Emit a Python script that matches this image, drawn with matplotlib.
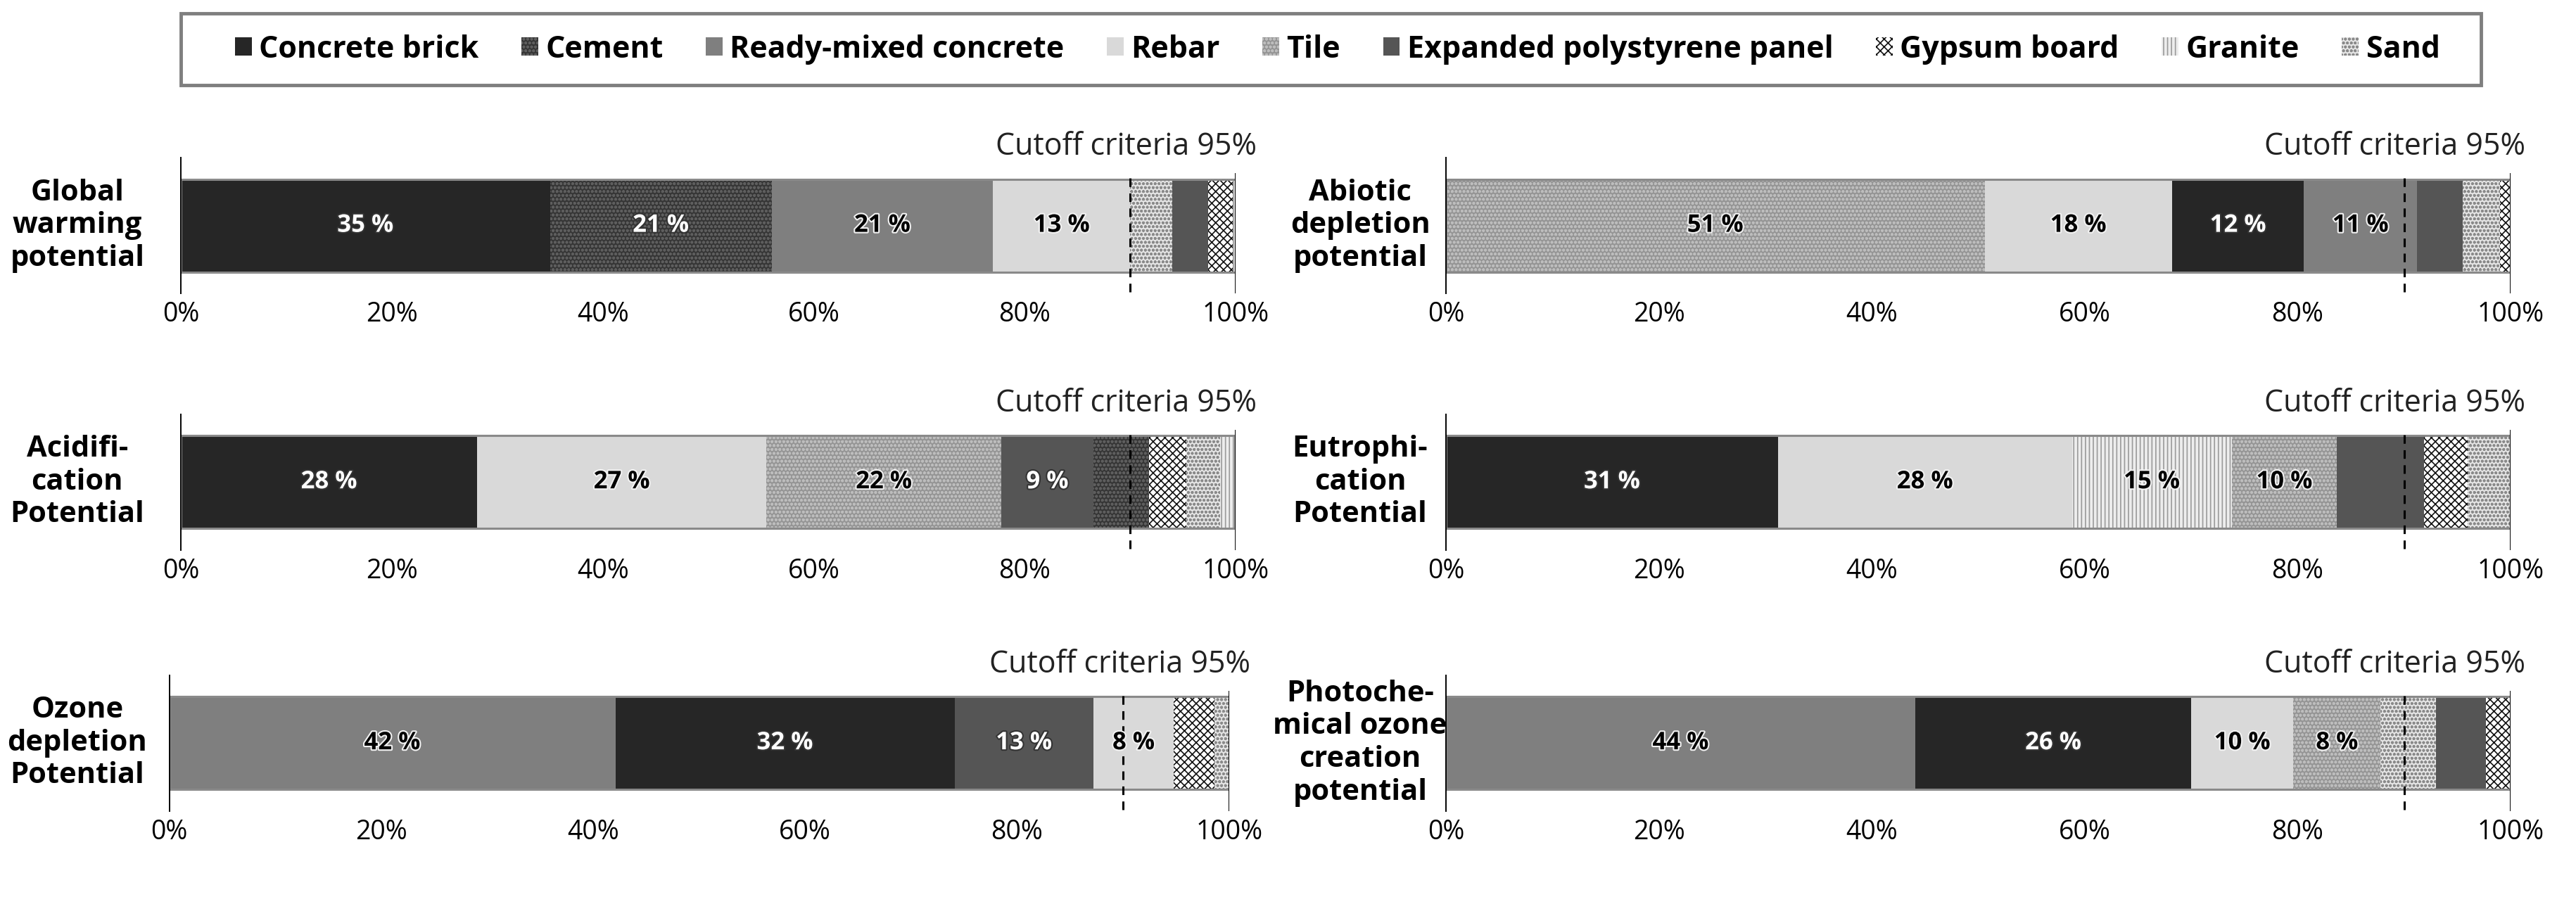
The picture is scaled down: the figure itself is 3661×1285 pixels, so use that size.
import numpy as np
import matplotlib
matplotlib.use("Agg")
import matplotlib.pyplot as plt
from matplotlib.patches import Patch, Rectangle
import matplotlib.patheffects as pe

plt.rcParams['font.family'] = ['Open Sans', 'DejaVu Sans']
plt.rcParams['hatch.linewidth'] = 1.2

# Legend order
categories = ['Concrete brick', 'Cement', 'Ready-mixed concrete', 'Rebar', 'Tile',
              'Expanded polystyrene panel', 'Gypsum board', 'Granite', 'Sand']

# Shares (%) per impact category, in the order they are stacked
gwp_mat = ['Concrete brick', 'Cement', 'Ready-mixed concrete', 'Rebar', 'Sand',
           'Expanded polystyrene panel', 'Gypsum board', 'Granite']
gwp_val = [35, 21, 21, 13, 4.0, 3.4, 2.3, 0.3]

adp_mat = ['Tile', 'Rebar', 'Concrete brick', 'Ready-mixed concrete',
           'Expanded polystyrene panel', 'Sand', 'Gypsum board']
adp_val = [50.6, 17.6, 12.4, 10.6, 4.3, 3.5, 1.0]

ap_mat = ['Concrete brick', 'Rebar', 'Tile', 'Expanded polystyrene panel', 'Cement',
          'Gypsum board', 'Sand', 'Granite']
ap_val = [28.1, 27.4, 22.3, 8.7, 5.3, 3.5, 3.2, 1.4]

ep_mat = ['Concrete brick', 'Rebar', 'Granite', 'Tile', 'Expanded polystyrene panel',
          'Gypsum board', 'Sand']
ep_val = [31.2, 27.6, 15.0, 9.9, 8.2, 4.1, 4.0]

odp_mat = ['Ready-mixed concrete', 'Concrete brick', 'Expanded polystyrene panel', 'Rebar',
           'Gypsum board', 'Sand']
odp_val = [42.1, 32.0, 13.1, 7.6, 3.8, 1.4]

pocp_mat = ['Ready-mixed concrete', 'Concrete brick', 'Rebar', 'Tile', 'Sand',
            'Expanded polystyrene panel', 'Gypsum board']
pocp_val = [44.1, 25.9, 9.6, 8.2, 5.2, 4.7, 2.3]

titles = ["Global\nwarming\npotential", "Abiotic\ndepletion\npotential",
          "Acidifi-\ncation\nPotential", "Eutrophi-\ncation\nPotential",
          "Ozone\ndepletion\nPotential", "Photoche-\nmical ozone\ncreation\npotential"]
panels = [(gwp_mat, gwp_val), (adp_mat, adp_val), (ap_mat, ap_val),
          (ep_mat, ep_val), (odp_mat, odp_val), (pocp_mat, pocp_val)]
cutoff = 90
ticks = [0, 20, 40, 60, 80, 100]
tick_labels = ['0%', '20%', '40%', '60%', '80%', '100%']

style = {
    'Concrete brick': dict(facecolor='#262626', edgecolor='#262626'),
    'Cement': dict(facecolor='#363636', edgecolor='#5e5e5e', hatch='ooo'),
    'Ready-mixed concrete': dict(facecolor='#7f7f7f', edgecolor='#7f7f7f'),
    'Rebar': dict(facecolor='#d9d9d9', edgecolor='#d9d9d9'),
    'Tile': dict(facecolor='#959595', edgecolor='#bdbdbd', hatch='ooo'),
    'Expanded polystyrene panel': dict(facecolor='#555555', edgecolor='#555555'),
    'Gypsum board': dict(facecolor='#ffffff', edgecolor='#111111', hatch='xxx'),
    'Granite': dict(facecolor='#ededed', edgecolor='#9a9a9a', hatch='|||'),
    'Sand': dict(facecolor='#e4e4e4', edgecolor='#8a8a8a', hatch='ooo'),
}
dark = ['Concrete brick', 'Cement', 'Expanded polystyrene panel']

fig = plt.figure(figsize=(36.61, 12.85), dpi=100)

# axes rectangles (figure fraction)
boxes = [
    [0.0702, 0.6755, 0.4095, 0.150], [0.5613, 0.6755, 0.4133, 0.150],
    [0.0702, 0.3918, 0.4095, 0.150], [0.5613, 0.3918, 0.4133, 0.150],
    [0.0657, 0.1031, 0.4114, 0.150], [0.5613, 0.1031, 0.4133, 0.150],
]

for i, (mats, vals) in enumerate(panels):
    ax = fig.add_axes(boxes[i])
    left = 0
    for j, (m, v) in enumerate(zip(mats, vals)):
        ax.barh(0, v, left=left, height=1, linewidth=0, **style[m])
        if j < 4:
            c = 'white' if m in dark else 'black'
            sc = '#333333' if c == 'white' else '#f2f2f2'
            ax.text(left + v / 2, 0, f"{round(v)} %", ha='center', va='center',
                    fontsize=25, fontweight='bold', color=c,
                    path_effects=[pe.withStroke(linewidth=3, foreground=sc)])
        left += v
    ax.barh(0, sum(vals), height=1, fill=False, edgecolor='#8a8a8a', linewidth=2.2)
    ax.axvline(cutoff, ymin=0.01, ymax=0.88, color='black', linestyle=(0, (4, 3)), lw=2.2)
    ax.axvline(100, ymin=0, ymax=0.88, color='black', lw=1.4)
    ax.set_xlim(0, 100)
    ax.set_ylim(-0.731, 0.731)
    ax.set_xticks(ticks)
    ax.set_xticklabels(tick_labels)
    ax.set_yticks([])
    ax.tick_params(axis='x', length=0, pad=8, labelsize=27)
    for s in ['top', 'right', 'bottom']:
        ax.spines[s].set_visible(False)
    ax.spines['left'].set_linewidth(1.4)
    ax.patch.set_alpha(0)
    xr = 102 if i % 2 == 0 else 101.4
    ax.text(xr, 1.08, 'Cutoff criteria 95%', transform=ax.get_xaxis_transform(),
            ha='right', va='center', fontsize=31, color='#222222')
    # row label, centred in the left margin of its column
    yc = boxes[i][1] + boxes[i][3] / 2
    xl = 0.0300 if i % 2 == 0 else 0.5280
    fig.text(xl, yc, titles[i], ha='center', va='center',
             fontsize=30, fontweight='bold', linespacing=1.18)

# legend frame and entries
fig.patches.append(Rectangle((0.0702, 0.9058), 0.893, 0.0794, transform=fig.transFigure,
                             fill=False, edgecolor='#7f7f7f', linewidth=3.5))
handles = [Patch(label=c, linewidth=0, **style[c]) for c in categories]
leg = fig.legend(handles=handles, ncol=9, loc='center',
                 bbox_to_anchor=(0.0912, 0.9058, 0.856, 0.0794), mode='expand',
                 prop={'weight': 'bold', 'size': 31},
                 handlelength=0.55, handleheight=0.55, handletextpad=0.25,
                 columnspacing=0.4, borderpad=0, borderaxespad=0, frameon=False)

fig.savefig('out.png', dpi=100)
